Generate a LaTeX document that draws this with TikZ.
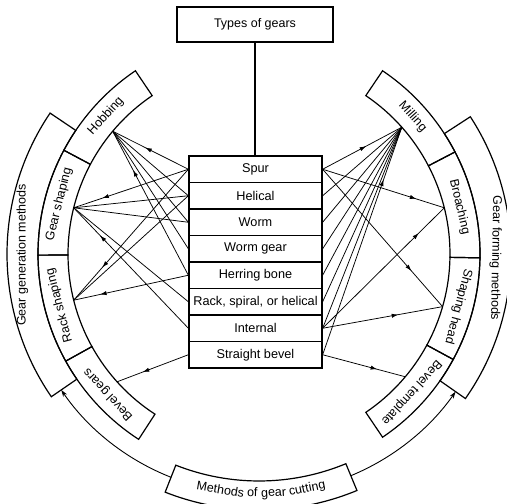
\documentclass[tikz,border=0pt]{standalone}
\usepackage{fontspec}
\setmainfont{Liberation Sans}
\usetikzlibrary{arrows.meta,decorations.markings}
\newcommand\rbox[4]{%
  \draw[ringline] (#1:#3pt) arc[start angle=#1, end angle=#2, radius=#3pt]
    -- (#2:#4pt) arc[start angle=#2, end angle=#1, radius=#4pt] -- cycle;}
\begin{document}
\begin{tikzpicture}[x=1pt,y=1pt,
  lbl/.style={font=\fontsize{12.5}{14}\selectfont, inner sep=0pt},
  rowbox/.style={draw, line width=1.3pt, minimum width=133pt, minimum height=26.5pt,
    inner sep=0pt, font=\fontsize{12.7}{14}\selectfont},
  ringline/.style={draw, line width=1.2pt},
  conn/.style={line width=0.75pt},
  midarr/.style={postaction={decorate,decoration={markings,
    mark=at position #1 with {\arrow{Latex[length=6.5pt,width=4.2pt]}}}}},
  loop/.style={line width=0.9pt, -{Stealth[length=7pt,width=4.5pt]}},
]
\useasboundingbox (0,0) rectangle (507,504);
\clip (0,0) rectangle (507,504);

% central box
\node[draw, line width=1.3pt, minimum width=156pt, minimum height=35pt, lbl] (types) at (255,479.5) {Types of gears};
\node[rowbox] (spur)     at (255.5,334.75) {Spur};
\node[rowbox] (helical)  at (255.5,308.25) {Helical};
\node[rowbox] (worm)     at (255.5,281.75) {Worm};
\node[rowbox] (wormgear) at (255.5,255.25) {Worm gear};
\node[rowbox] (herring)  at (255.5,228.75) {Herring bone};
\node[rowbox] (rack)     at (255.5,202.25) {Rack, spiral, or helical};
\node[rowbox] (internal) at (255.5,175.75) {Internal};
\node[rowbox] (sbevel)   at (255.5,149.25) {Straight bevel};
\draw[line width=1.3pt] (types.south) -- (types.south |- spur.north);

\begin{scope}[shift={(259,250)}]
  % left inner ring
  \rbox{124}{152}{191}{221}
  \rbox{152}{180.3}{191}{221}
  \rbox{180.3}{209}{191}{221}
  \rbox{209}{237}{191}{221}
  \rbox{146}{214.5}{221}{252}
  % right inner ring
  \rbox{56}{27.5}{191}{221}
  \rbox{27.5}{-1}{191}{221}
  \rbox{-1}{-28.5}{191}{221}
  \rbox{-28.5}{-56}{191}{221}
  \rbox{33}{-35}{221}{252}
  % bottom box
  \rbox{-111.5}{-67.5}{227}{256}

  \node[lbl, rotate=48]      (hobt) at (138:206pt) {Hobbing};
  \node[lbl, rotate=76]      (gsht) at (166:206pt) {Gear shaping};
  \node[lbl, rotate=104.5]   (rsht) at (194.5:206pt) {Rack shaping};
  \node[lbl, rotate=133]     (bvgt) at (223:206pt) {Bevel gears};
  \node[lbl, rotate=90]      (gent) at (180.25:236.5pt) {Gear generation methods};
  \node[lbl, rotate=-48.25]  (milt) at (41.75:206pt) {Milling};
  \node[lbl, rotate=-76.75]  (brot) at (13.25:206pt) {Broaching};
  \node[lbl, rotate=-104.75] (shht) at (-14.75:206pt) {Shaping head};
  \node[lbl, rotate=-132.25] (bvtt) at (-42.25:206pt) {Bevel template};
  \node[lbl, rotate=-91]     (fort) at (-1:236.5pt) {Gear forming methods};

  \node[lbl, anchor=base, rotate=-9.3] (m1) at (-99.3:243pt) {Methods};
  \node[lbl, anchor=base, rotate=-1.6] (m2) at (-91.6:243pt) {of};
  \node[lbl, anchor=base, rotate=3.5]  (m3) at (-86.5:243pt) {gear};
  \node[lbl, anchor=base, rotate=11.6] (m4) at (-78.4:243pt) {cutting};

  \coordinate (hob) at (140:191pt);
  \coordinate (gsh) at (166:191pt);
  \coordinate (rsh) at (194:191pt);
  \coordinate (bvg) at (222:191pt);
  \coordinate (mil) at (41.6:191pt);
  \coordinate (bro) at (14:191pt);
  \coordinate (shh) at (-16:191pt);
  \coordinate (bvt) at (-40:191pt);

  \coordinate (methL) at (248.5:240pt);
  \coordinate (methR) at (-67.5:240pt);
  \draw[loop] (methL) arc[start angle=248.5, end angle=214.5, radius=240pt];
  \draw[loop] (methR) arc[start angle=-67.5, end angle=-35, radius=240pt];
\end{scope}

% left connections
\draw[conn, midarr=0.57] (spur.west) -- (hob);
\draw[conn] (helical.west) -- (hob);
\draw[conn] (worm.west) -- (hob);
\draw[conn] (wormgear.west) -- (hob);
\draw[conn, midarr=0.73] (herring.west) -- (hob);

\draw[conn, midarr=0.75] (spur.west) -- (gsh);
\draw[conn] (helical.west) -- (gsh);
\draw[conn] (worm.west) -- (gsh);
\draw[conn] (rack.west) -- (gsh);
\draw[conn, midarr=0.77] (internal.west) -- (gsh);

\draw[conn, midarr=0.75] (spur.west) -- (rsh);
\draw[conn] (helical.west) -- (rsh);
\draw[conn, midarr=0.77] (herring.west) -- (rsh);

\draw[conn, midarr=0.64] (sbevel.west) -- (bvg);

% right connections
\draw[conn, midarr=0.55] (spur.east) -- (mil);
\draw[conn] (helical.east) -- (mil);
\draw[conn] (worm.east) -- (mil);
\draw[conn] (wormgear.east) -- (mil);
\draw[conn] (herring.east) -- (mil);
\draw[conn] (rack.east) -- (mil);
\draw[conn] (internal.east) -- (mil);
\draw[conn, midarr=0.77] (sbevel.east) -- (mil);

\draw[conn, midarr=0.77] (spur.east) -- (bro);
\draw[conn, midarr=0.79] (internal.east) -- (bro);

\draw[conn, midarr=0.74] (spur.east) -- (shh);
\draw[conn, midarr=0.63] (internal.east) -- (shh);

\draw[conn, midarr=0.66] (sbevel.east) -- (bvt);
\end{tikzpicture}
\end{document}
